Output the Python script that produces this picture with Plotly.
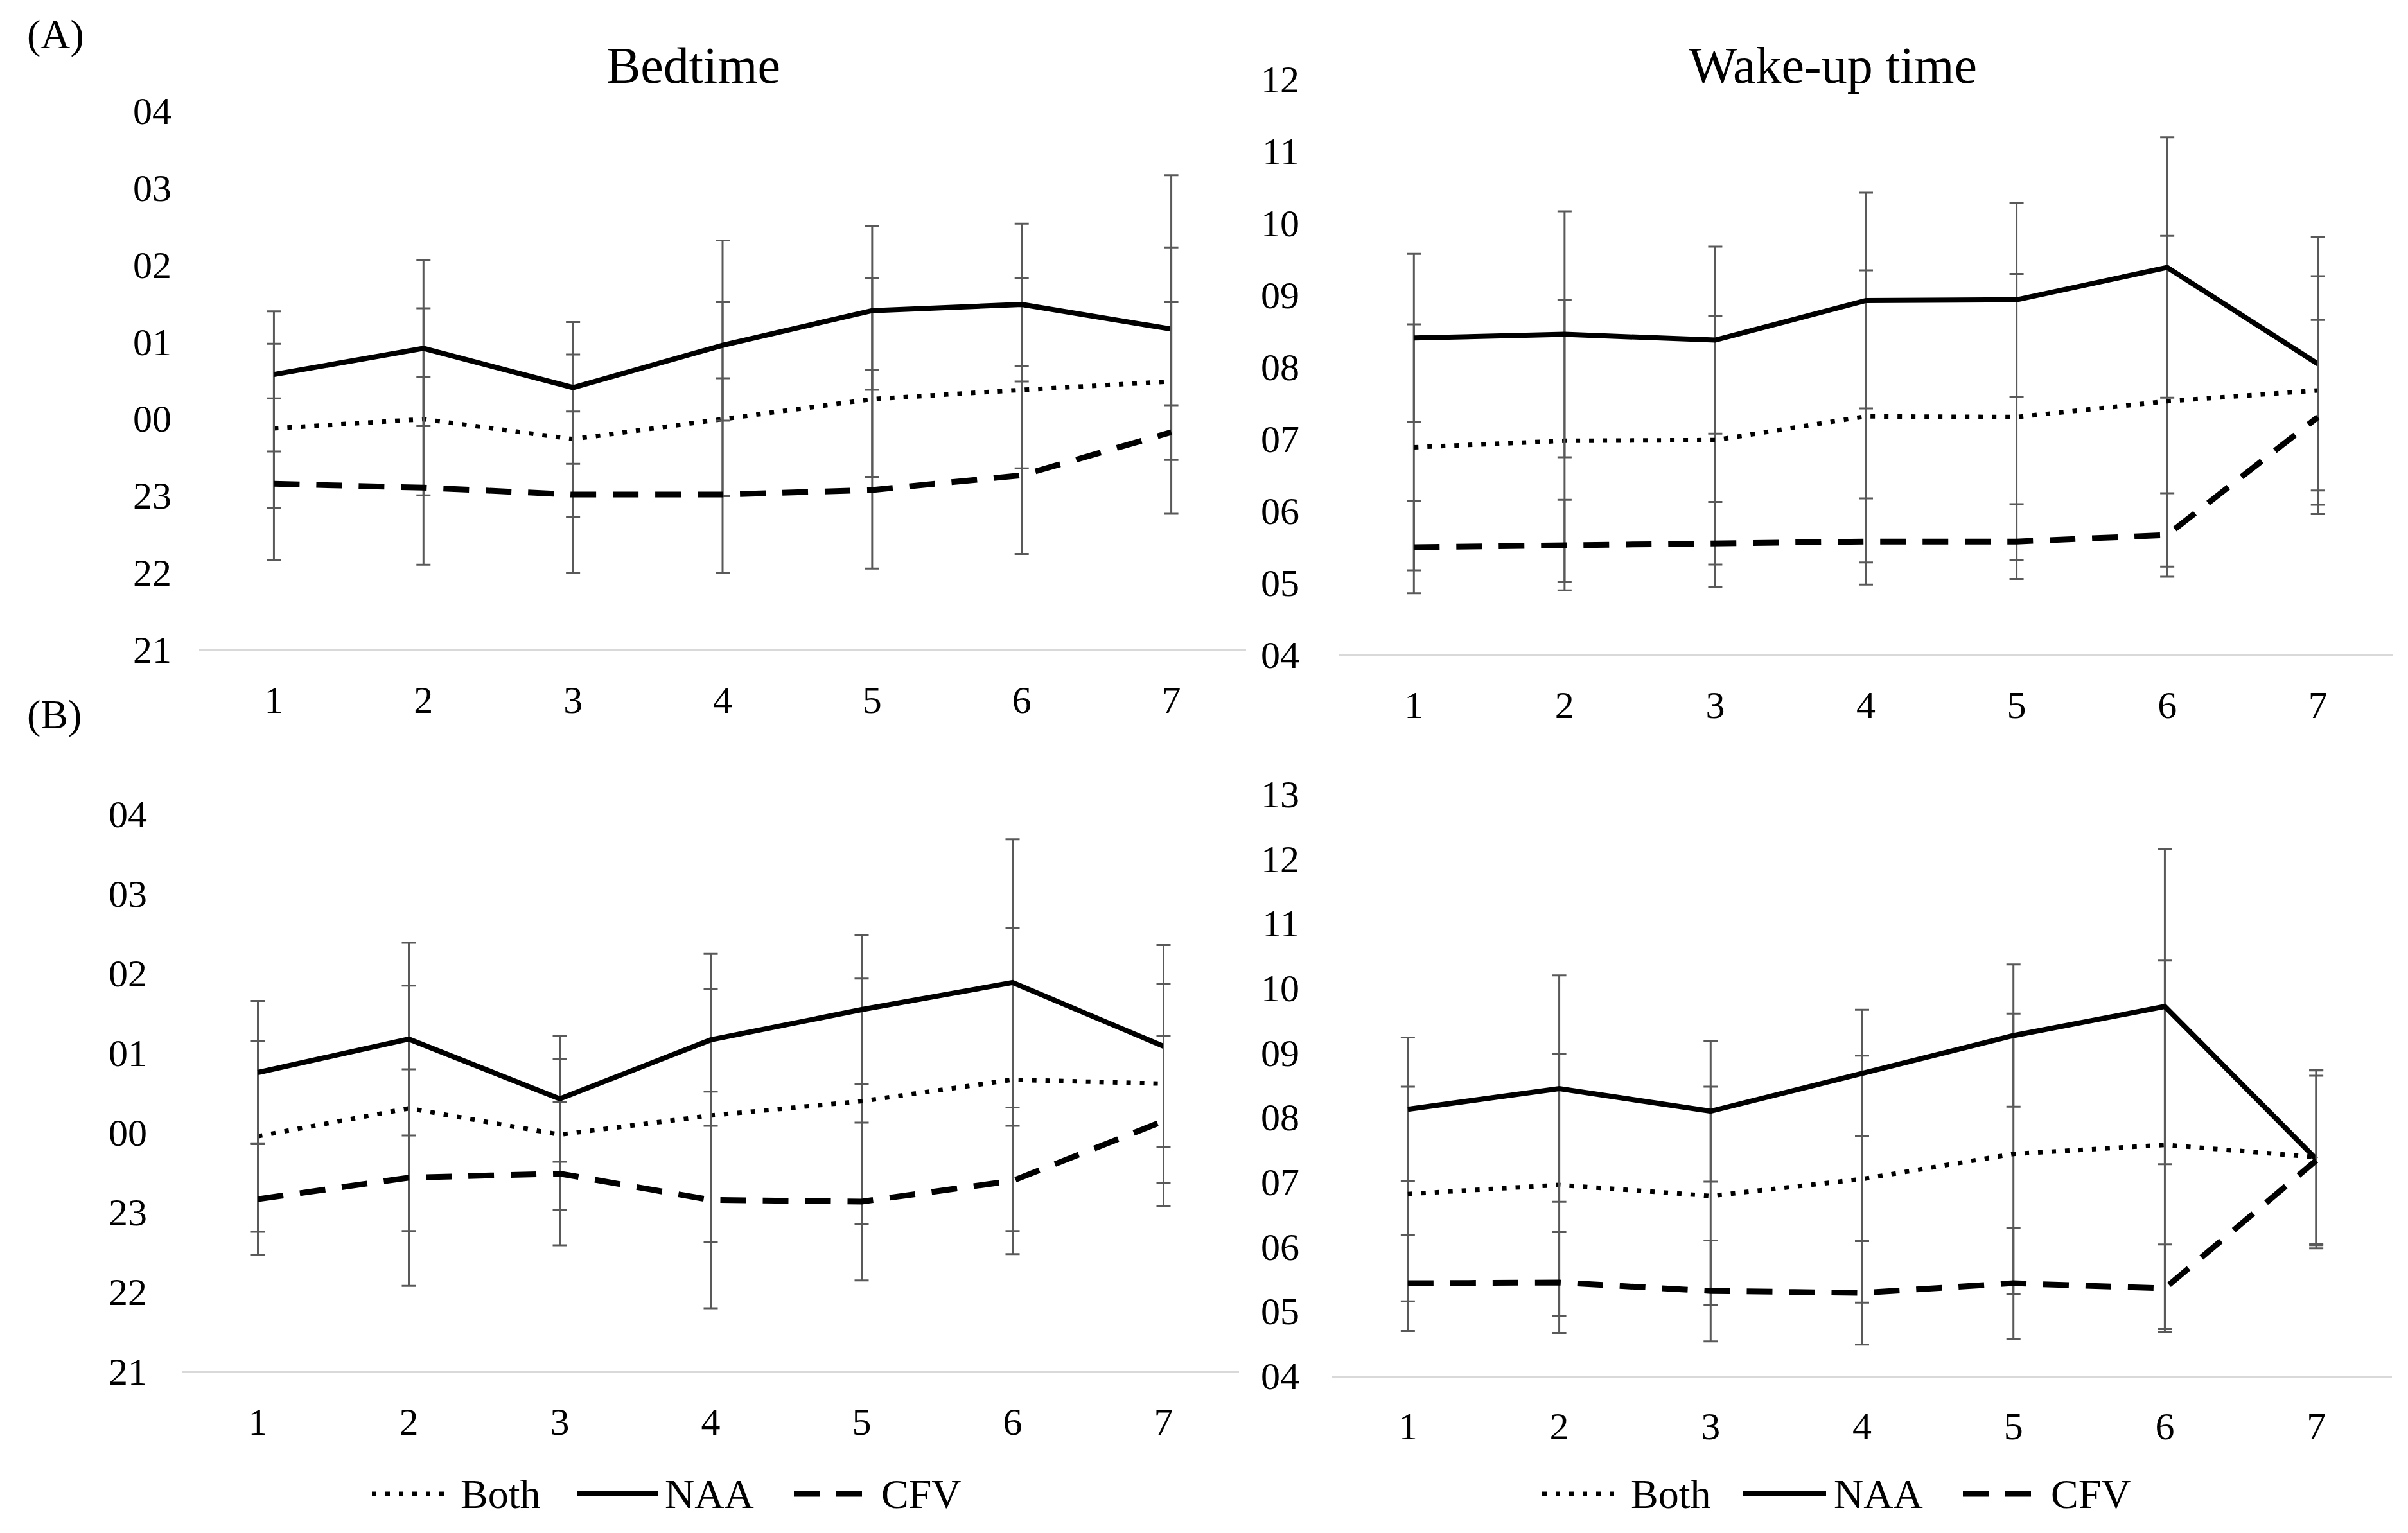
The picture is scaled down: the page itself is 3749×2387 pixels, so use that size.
import plotly.graph_objects as go

# ---------------- data ----------------
days = [1, 2, 3, 4, 5, 6, 7]
series_names = ["Both", "NAA", "CFV"]

# (A) Bedtime, clock hours (values > 24 are after midnight); asymmetric error bars
a_bed_both = [23.87, 23.99, 23.73, 23.99, 24.25, 24.37, 24.48]
a_bed_both_up = [1.10, 1.44, 1.10, 1.52, 1.57, 1.45, 1.74]
a_bed_both_dn = [1.03, 0.99, 1.01, 1.00, 1.01, 1.02, 1.02]
a_bed_naa = [24.57, 24.91, 24.40, 24.95, 25.40, 25.48, 25.16]
a_bed_naa_up = [0.82, 1.15, 0.85, 1.36, 1.10, 1.05, 2.00]
a_bed_naa_dn = [1.00, 1.01, 0.99, 0.98, 1.03, 1.00, 0.99]
a_bed_cfv = [23.15, 23.10, 23.01, 23.01, 23.07, 23.26, 23.82]
a_bed_cfv_up = [1.11, 1.44, 1.08, 1.51, 1.56, 1.42, 1.69]
a_bed_cfv_dn = [0.99, 1.00, 1.02, 1.02, 1.02, 1.02, 1.06]

# (A) Wake-up time, clock hours; symmetric SD
a_wake_both = [6.88, 6.97, 6.98, 7.31, 7.30, 7.52, 7.67]
a_wake_both_sd = [1.71, 1.96, 1.73, 2.03, 1.99, 2.30, 1.59]
a_wake_naa = [8.40, 8.45, 8.37, 8.92, 8.93, 9.38, 8.04]
a_wake_naa_sd = [1.17, 1.71, 1.30, 1.50, 1.35, 1.81, 1.76]
a_wake_cfv = [5.49, 5.52, 5.53, 5.57, 5.57, 5.66, 7.30]
a_wake_cfv_sd = [0.64, 0.63, 0.59, 0.60, 0.52, 0.58, 1.35]

# (B) Bedtime
b_bed_both = [23.95, 24.30, 23.97, 24.21, 24.39, 24.66, 24.61]
b_bed_both_sd = [1.20, 1.54, 0.95, 1.59, 1.54, 1.90, 1.25]
b_bed_naa = [24.75, 25.17, 24.42, 25.16, 25.54, 25.88, 25.08]
b_bed_naa_sd = [0.90, 1.21, 0.79, 1.08, 0.94, 1.80, 1.27]
b_bed_cfv = [23.16, 23.43, 23.48, 23.15, 23.13, 23.39, 24.14]
b_bed_cfv_sd = [0.70, 1.36, 0.90, 1.36, 0.99, 0.92, 1.07]

# (B) Wake-up time
b_wake_both = [6.81, 6.95, 6.78, 7.04, 7.43, 7.57, 7.38]
b_wake_both_sd = [1.66, 2.03, 1.69, 1.91, 2.17, 2.85, 1.34]
b_wake_naa = [8.12, 8.44, 8.09, 8.68, 9.26, 9.71, 7.35]
b_wake_naa_sd = [1.11, 1.75, 1.09, 0.98, 1.10, 2.44, 1.38]
b_wake_cfv = [5.43, 5.44, 5.31, 5.28, 5.43, 5.35, 7.33]
b_wake_cfv_sd = [0.74, 0.78, 0.78, 0.80, 0.86, 0.68, 1.31]

bed_tickvals = [21, 22, 23, 24, 25, 26, 27, 28]
bed_ticktext = ["21", "22", "23", "00", "01", "02", "03", "04"]
wake_a_tickvals = [4, 5, 6, 7, 8, 9, 10, 11, 12]
wake_a_ticktext = ["04", "05", "06", "07", "08", "09", "10", "11", "12"]
wake_b_tickvals = [4, 5, 6, 7, 8, 9, 10, 11, 12, 13]
wake_b_ticktext = ["04", "05", "06", "07", "08", "09", "10", "11", "12", "13"]

# ---------------- styles ----------------
FONT = "Liberation Serif, Times New Roman, serif"
styles = {
    "Both": dict(color="black", width=7, dash="7px,14px"),
    "NAA": dict(color="black", width=8, dash="solid"),
    "CFV": dict(color="black", width=9, dash="40px,26px"),
}
ERR_COLOR = "#595959"

fig = go.Figure()


def add_series(name, y, up, dn, xa, ya):
    fig.add_trace(go.Scatter(
        x=days, y=y, mode="lines", name=name, showlegend=False,
        line=styles[name],
        error_y=dict(type="data", symmetric=False, array=up, arrayminus=dn,
                     color=ERR_COLOR, thickness=3, width=11),
        xaxis=xa, yaxis=ya,
    ))


# Panel A bedtime (x, y)
add_series("Both", a_bed_both, a_bed_both_up, a_bed_both_dn, "x", "y")
add_series("NAA", a_bed_naa, a_bed_naa_up, a_bed_naa_dn, "x", "y")
add_series("CFV", a_bed_cfv, a_bed_cfv_up, a_bed_cfv_dn, "x", "y")
# Panel A wake (x2, y2)
add_series("Both", a_wake_both, a_wake_both_sd, a_wake_both_sd, "x2", "y2")
add_series("NAA", a_wake_naa, a_wake_naa_sd, a_wake_naa_sd, "x2", "y2")
add_series("CFV", a_wake_cfv, a_wake_cfv_sd, a_wake_cfv_sd, "x2", "y2")
# Panel B bedtime (x3, y3)
add_series("Both", b_bed_both, b_bed_both_sd, b_bed_both_sd, "x3", "y3")
add_series("NAA", b_bed_naa, b_bed_naa_sd, b_bed_naa_sd, "x3", "y3")
add_series("CFV", b_bed_cfv, b_bed_cfv_sd, b_bed_cfv_sd, "x3", "y3")
# Panel B wake (x4, y4)
add_series("Both", b_wake_both, b_wake_both_sd, b_wake_both_sd, "x4", "y4")
add_series("NAA", b_wake_naa, b_wake_naa_sd, b_wake_naa_sd, "x4", "y4")
add_series("CFV", b_wake_cfv, b_wake_cfv_sd, b_wake_cfv_sd, "x4", "y4")

W, H = 3749, 2387
OFF_X = 8  # page body margin compensation
OFF_Y = 12


def px(x):
    return (x - OFF_X) / W


def py(y):
    return 1 - (y - OFF_Y) / H


def xaxis(x0, x1, anchor):
    return dict(domain=[px(x0), px(x1)], anchor=anchor, range=[0.5, 7.5], automargin=False,
                tickmode="array", tickvals=days, ticktext=[str(d) for d in days],
                showline=True, linecolor="#d9d9d9", linewidth=3,
                showgrid=False, zeroline=False, ticks="",
                ticklabelstandoff=24,
                tickfont=dict(family=FONT, size=60, color="black"))


def yaxis(y_bottom, y_top, anchor, rng, tv, tt, standoff):
    return dict(domain=[py(y_bottom), py(y_top)], anchor=anchor, range=rng, automargin=False,
                tickmode="array", tickvals=tv, ticktext=tt,
                showline=False, showgrid=False, zeroline=False, ticks="",
                ticklabelstandoff=standoff,
                tickfont=dict(family=FONT, size=60, color="black"))


layout = dict(
    template="none",
    width=W, height=H, autosize=False,
    margin=dict(l=0, r=0, t=0, b=0, pad=0),
    paper_bgcolor="white", plot_bgcolor="white",
    showlegend=False,
    xaxis=xaxis(310, 1940, "y"),
    yaxis=yaxis(1015, 176, "x", [21, 28], bed_tickvals, bed_ticktext, 42),
    xaxis2=xaxis(2084, 3726, "y2"),
    yaxis2=yaxis(1023, 127, "x2", [4, 12], wake_a_tickvals, wake_a_ticktext, 60),
    xaxis3=xaxis(284, 1929, "y3"),
    yaxis3=yaxis(2139, 1271, "x3", [21, 28], bed_tickvals, bed_ticktext, 54),
    xaxis4=xaxis(2074, 3724, "y4"),
    yaxis4=yaxis(2146, 1240, "x4", [4, 13], wake_b_tickvals, wake_b_ticktext, 50),
)
fig.update_layout(**layout)

annotations = [
    dict(text="(A)", x=px(40), y=py(58), xanchor="left", yanchor="middle",
         font=dict(family=FONT, size=64, color="black")),
    dict(text="(B)", x=px(40), y=py(1116), xanchor="left", yanchor="middle",
         font=dict(family=FONT, size=64, color="black")),
    dict(text="Bedtime", x=px(1079), y=py(106), xanchor="center", yanchor="middle",
         font=dict(family=FONT, size=80, color="black")),
    dict(text="Wake-up time", x=px(2853), y=py(106), xanchor="center", yanchor="middle",
         font=dict(family=FONT, size=80, color="black")),
]

# Manual legends (one under each bottom panel)
legend_y = py(2330)
legend_left = [(579, 693, 715), (899, 1024, 1033), (1236, 1348, 1370)]
legend_right = [(2401, 2513, 2537), (2714, 2843, 2853), (3056, 3174, 3191)]
shapes = []
for positions in (legend_left, legend_right):
    for name, (x0, x1, xt) in zip(series_names, positions):
        st = styles[name]
        shapes.append(dict(type="line", xref="paper", yref="paper",
                           x0=px(x0), x1=px(x1), y0=legend_y, y1=legend_y,
                           line=dict(color=st["color"], width=st["width"], dash=st["dash"])))
        annotations.append(dict(text=name, x=px(xt), y=legend_y, xanchor="left",
                                yanchor="middle", showarrow=False,
                                font=dict(family=FONT, size=64, color="black")))

for a in annotations:
    a.setdefault("showarrow", False)
    a["xref"] = "paper"
    a["yref"] = "paper"

fig.update_layout(annotations=annotations, shapes=shapes)

fig.write_html("out.html")
